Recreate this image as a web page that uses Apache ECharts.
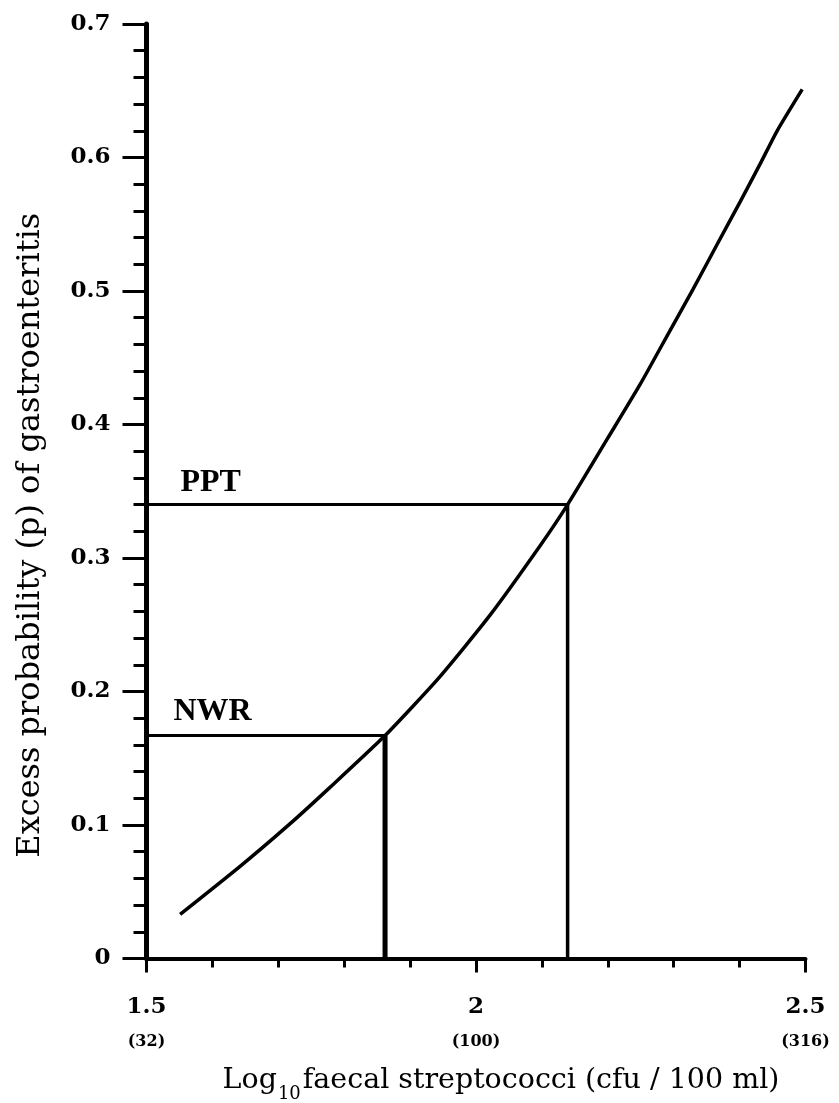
<!DOCTYPE html>
<html>
<head>
<meta charset="utf-8">
<script src="https://cdn.jsdelivr.net/npm/echarts@6/dist/echarts.min.js"></script>
<style>
  html, body { margin: 0; padding: 0; background: #fff; }
  #chart { width: 839px; height: 1103px; }
</style>
</head>
<body>
<div id="chart"></div>
<script>
// ---- data ----
const curveX = [1.551, 1.642, 1.718, 1.778, 1.862, 1.945, 2.021, 2.097, 2.139, 2.199, 2.249, 2.294, 2.329, 2.366, 2.401, 2.431, 2.457, 2.495];
const curveY = [0.033, 0.069, 0.101, 0.128, 0.167, 0.211, 0.257, 0.309, 0.340, 0.389, 0.430, 0.470, 0.501, 0.535, 0.567, 0.595, 0.620, 0.651];
const thresholdNames = ['NWR', 'PPT'];
const thresholdX = [1.862, 2.139];
const thresholdY = [0.167, 0.340];
const xTickValues = [1.5, 2, 2.5];
const xTickLabels = ['1.5', '2', '2.5'];
const xTickCounts = ['(32)', '(100)', '(316)'];
const yTickLabels = ['0', '0.1', '0.2', '0.3', '0.4', '0.5', '0.6', '0.7'];
const xMin = 1.5, xMax = 2.5, yMin = 0, yMax = 0.7;

const titleFont = 'DejaVu Serif';
const labelFont = 'Liberation Serif';

const curveData = curveX.map((x, i) => [x, curveY[i]]);

const series = [{
  type: 'line',
  data: curveData,
  smooth: 0.2,
  showSymbol: false,
  lineStyle: { color: '#000', width: 3.5 },
  silent: true
}];

const vWidths = [5, 3.5];
thresholdNames.forEach((name, i) => {
  series.push({
    type: 'line',
    data: [[xMin, thresholdY[i]], [thresholdX[i], thresholdY[i]]],
    showSymbol: false,
    lineStyle: { color: '#000', width: 3 },
    silent: true
  });
  series.push({
    type: 'line',
    data: [[thresholdX[i], thresholdY[i]], [thresholdX[i], yMin]],
    showSymbol: false,
    lineStyle: { color: '#000', width: vWidths[i] },
    silent: true
  });
});

const labelOffsets = [[27, 0], [34, 0]];
const labelDistances = [8, 6];
series.push({
  type: 'scatter',
  symbolSize: 0,
  silent: true,
  itemStyle: { opacity: 1, color: '#000' },
  label: {
    show: true,
    formatter: '{b}',
    fontFamily: labelFont,
    fontWeight: 'bold',
    fontSize: 32,
    color: '#000'
  },
  data: thresholdNames.map((name, i) => ({
    name: name,
    value: [xMin, thresholdY[i]],
    label: {
      show: true,
      position: 'top',
      align: 'left',
      distance: labelDistances[i],
      offset: labelOffsets[i],
      formatter: '{b}',
      fontFamily: labelFont,
      fontWeight: 'bold',
      fontSize: 32,
      color: '#000'
    }
  }))
});

const chart = echarts.init(document.getElementById('chart'));
chart.setOption({
  backgroundColor: '#fff',
  animation: false,
  grid: { left: 146.5, right: 33.5, top: 24, bottom: 144.5, containLabel: false, outerBoundsMode: 'none' },
  xAxis: {
    type: 'value',
    min: xMin, max: xMax, interval: 0.5,
    axisLine: { show: true, onZero: false, lineStyle: { color: '#000', width: 4 } },
    axisTick: { show: true, inside: false, length: 14, lineStyle: { color: '#000', width: 3 } },
    minorTick: { show: true, splitNumber: 5, length: 9, lineStyle: { color: '#000', width: 3 } },
    splitLine: { show: false },
    minorSplitLine: { show: false },
    axisLabel: {
      margin: 35,
      showMinLabel: true, showMaxLabel: true,
      formatter: function (v) {
        const idx = xTickValues.findIndex(t => Math.abs(t - v) < 1e-9);
        if (idx < 0) return '';
        return '{a|' + xTickLabels[idx] + '}\n{b|' + xTickCounts[idx] + '}';
      },
      rich: {
        a: { fontFamily: titleFont, fontWeight: 'bold', fontSize: 23, lineHeight: 28, color: '#000' },
        b: { fontFamily: titleFont, fontWeight: 'bold', fontSize: 16, lineHeight: 40, color: '#000' }
      }
    },
    name: '{m|Log}{s|10}{m|faecal streptococci (cfu / 100 ml)}',
    nameLocation: 'middle',
    nameGap: 107.5,
    nameTextStyle: {
      padding: [0, 0, 0, 50],
      rich: {
        m: { fontFamily: titleFont, fontSize: 28.5, lineHeight: 30, color: '#000', verticalAlign: 'top' },
        s: { fontFamily: titleFont, fontSize: 18, lineHeight: 17, padding: [19, 2, 0, 1], color: '#000', verticalAlign: 'top' }
      }
    }
  },
  yAxis: {
    type: 'value',
    min: yMin, max: yMax, interval: 0.1,
    axisLine: { show: true, onZero: false, lineStyle: { color: '#000', width: 5 } },
    axisTick: { show: true, inside: false, length: 24, lineStyle: { color: '#000', width: 3 } },
    minorTick: { show: true, splitNumber: 5, length: 13, lineStyle: { color: '#000', width: 3 } },
    splitLine: { show: false },
    minorSplitLine: { show: false },
    axisLabel: {
      margin: 36,
      showMinLabel: true, showMaxLabel: true,
      fontFamily: titleFont, fontWeight: 'bold', fontSize: 23, color: '#000',
      formatter: function (v) {
        const idx = Math.round(v * 10);
        return yTickLabels[idx] !== undefined ? yTickLabels[idx] : '';
      }
    },
    name: 'Excess probability (p) of gastroenteritis',
    nameLocation: 'middle',
    nameGap: 100,
    nameTextStyle: {
      fontFamily: titleFont, fontSize: 32, color: '#000',
      padding: [0, 88, 0, 0]
    }
  },
  series: series
});
</script>
</body>
</html>
